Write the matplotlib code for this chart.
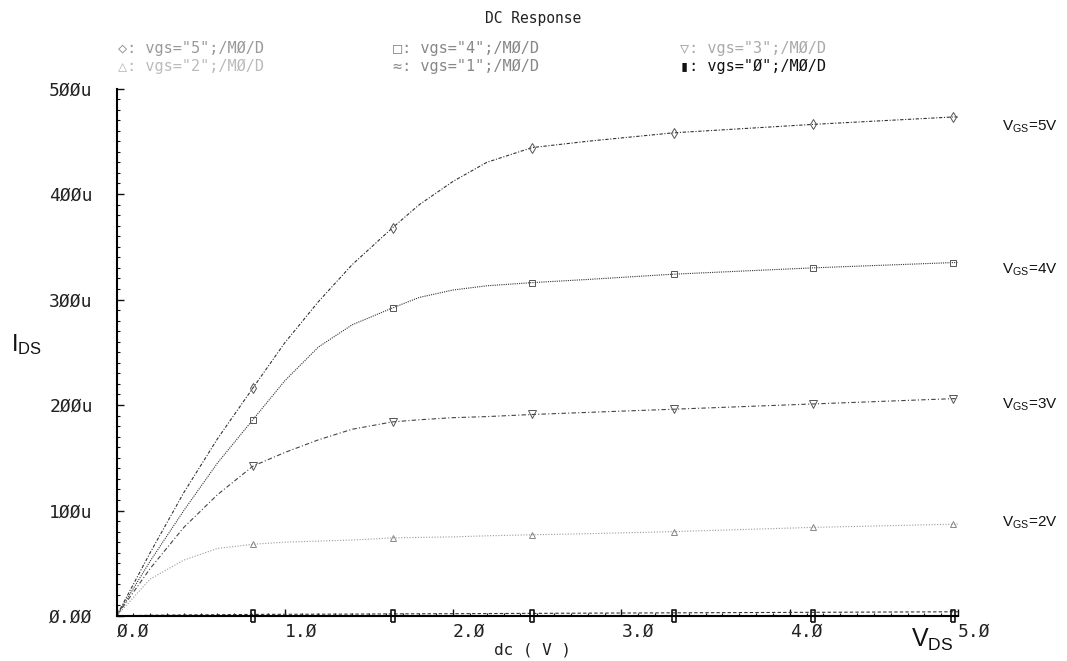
import matplotlib
matplotlib.use('Agg')
import matplotlib.pyplot as plt
from matplotlib.ticker import MultipleLocator

plt.rcParams['mathtext.fontset'] = 'custom'
plt.rcParams['mathtext.rm'] = 'Liberation Sans'
plt.rcParams['mathtext.it'] = 'Liberation Sans'

# sweep of V_DS (V)
vds = [0, 0.2, 0.4, 0.6, 0.81, 1.0, 1.2, 1.4, 1.64, 1.8, 2.0, 2.2, 2.47, 2.8, 3.31, 4.14, 4.97, 5.0]
marker_idx = [4, 8, 12, 14, 15, 16]

# drain current (uA) for each gate voltage
ids_vgs5 = [0, 60, 117, 168, 216, 259, 298, 333, 368, 390, 412, 430, 444, 450, 458, 466, 473, 473]
ids_vgs4 = [0, 52, 100, 145, 186, 223, 255, 276, 292, 302, 309, 313, 316, 319, 324, 330, 335, 335]
ids_vgs3 = [0, 45, 84, 115, 142, 155, 167, 177, 184, 186, 188, 189, 191, 193, 196, 201, 206, 206]
ids_vgs2 = [0, 35, 53, 64, 68, 70, 71, 72, 74, 74.5, 75, 76, 77, 78, 80, 84, 87, 87]
ids_vgs1 = [0, 0.7, 1.0, 1.2, 1.5, 1.6, 1.7, 1.8, 2.0, 2.1, 2.2, 2.3, 2.5, 2.7, 3.0, 3.5, 4.0, 4.0]
ids_vgs0 = [0.2] * 18

legend_labels = ['vgs="5";/MØ/D', 'vgs="4";/MØ/D', 'vgs="3";/MØ/D',
                 'vgs="2";/MØ/D', 'vgs="1";/MØ/D', 'vgs="Ø";/MØ/D']
legend_syms = ['◇', '□', '▽', '△', '≈', '▮']
curve_names = ['5V', '4V', '3V', '2V']
curve_label_y = [464, 328, 200, 88]

y_ticks = [0, 100, 200, 300, 400, 500]
y_tick_labels = ['Ø.ØØ', '1ØØu', '2ØØu', '3ØØu', '4ØØu', '5ØØu']
x_ticks = [0, 1, 2, 3, 4, 5]
x_tick_labels = ['Ø.Ø', '1.Ø', '2.Ø', '3.Ø', '4.Ø', '5.Ø']

mono = 'DejaVu Sans Mono'
rect = [(-0.35, -1), (0.35, -1), (0.35, 1), (-0.35, 1), (-0.35, -1)]

fig = plt.figure(figsize=(10.67, 6.61), dpi=100)
ax = fig.add_axes([116.5 / 1067, 1 - 616 / 661, (958 - 116.5) / 1067, (616 - 88.5) / 661])

ax.plot(vds, ids_vgs5, color='#333333', lw=0.8, dashes=(3, 1.5, 1, 1.5),
        marker='d', ms=5, mfc='none', mec='#555555', mew=0.7, markevery=marker_idx)
ax.plot(vds, ids_vgs4, color='#333333', lw=0.8, dashes=(1, 1),
        marker='s', ms=5, mfc='none', mec='#555555', mew=0.7, markevery=marker_idx)
ax.plot(vds, ids_vgs3, color='#444444', lw=0.8, dashes=(4, 2, 1, 2),
        marker='v', ms=5.5, mfc='none', mec='#555555', mew=0.7, markevery=marker_idx)
ax.plot(vds, ids_vgs2, color='#999999', lw=0.8, dashes=(1, 1.5),
        marker='^', ms=5, mfc='none', mec='#888888', mew=0.7, markevery=marker_idx)
ax.plot(vds, ids_vgs1, color='#333333', lw=0.8, dashes=(3, 2), clip_on=False)
ax.plot(vds, ids_vgs0, color='#999999', lw=1.5, dashes=(3, 1.5), clip_on=False,
        marker=rect, ms=8, mfc='none', mec='#111111', mew=1.2, markevery=marker_idx)

ax.set_xlim(0, 5)
ax.set_ylim(0, 500)
for s in ['top', 'right']:
    ax.spines[s].set_visible(False)
for s in ['left', 'bottom']:
    ax.spines[s].set_linewidth(1.5)

ax.set_xticks(x_ticks, labels=x_tick_labels)
ax.set_yticks(y_ticks, labels=y_tick_labels)
ax.xaxis.set_minor_locator(MultipleLocator(0.1))
ax.yaxis.set_minor_locator(MultipleLocator(10))
ax.tick_params(which='both', direction='in', colors='#111111')
ax.tick_params(which='major', length=5, width=1)
ax.tick_params(which='minor', length=2.5, width=0.8)
ax.tick_params(axis='y', pad=48.5, labelsize=13, labelcolor='#222222')
ax.tick_params(axis='x', pad=5, labelsize=13, labelcolor='#222222')
for t in ax.get_yticklabels():
    t.set_fontfamily(mono)
    t.set_horizontalalignment('left')
for t in ax.get_xticklabels():
    t.set_fontfamily(mono)
    t.set_horizontalalignment('left')

# title and legend rows
fig.text(533 / 1067, 1 - 19 / 661, 'DC Response', ha='center', va='center',
         family=mono, fontsize=10.5, color='#222222')
leg_x = [118, 393, 680]
leg_y = [48, 66]
leg_colors = ['#999999', '#888888', '#aaaaaa', '#bbbbbb', '#888888', '#111111']
for i, (sym, lab) in enumerate(zip(legend_syms, legend_labels)):
    r, c = divmod(i, 3)
    fig.text(leg_x[c] / 1067, 1 - leg_y[r] / 661, sym + ': ' + lab, ha='left', va='center',
             family=[mono, 'DejaVu Sans'], fontsize=11, color=leg_colors[i])

# curve labels on the right
for name, yv in zip(curve_names, curve_label_y):
    ax.annotate(r'V$_{\mathrm{GS}}$=' + name, xy=(1.0, yv), xycoords=('axes fraction', 'data'),
                xytext=(32, 0), textcoords='offset points', ha='left', va='center',
                family='Liberation Sans', fontsize=11, color='#111111', annotation_clip=False)

fig.text(533 / 1067, 1 - 650 / 661, 'dc ( V )', ha='center', va='center',
         family=mono, fontsize=11.5, color='#222222')
fig.text(932 / 1067, 1 - 640 / 661, r'V$_{\mathrm{DS}}$', ha='center', va='center',
         family='Liberation Sans', fontsize=18, color='#111111')
fig.text(11 / 1067, 1 - 345 / 661, r'I$_{\mathrm{DS}}$', ha='left', va='center',
         family='Liberation Sans', fontsize=17, color='#111111')

fig.savefig('out.png', dpi=100)
